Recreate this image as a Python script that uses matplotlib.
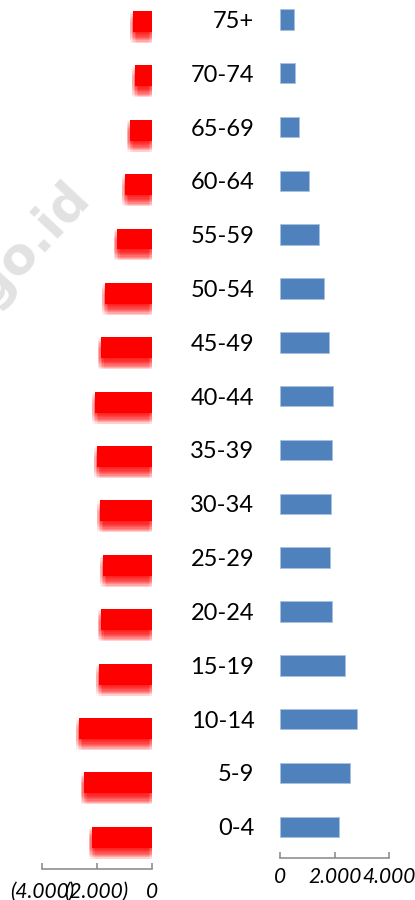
import numpy as np
import matplotlib.pyplot as plt
import matplotlib.patheffects as pe
from matplotlib.ticker import FuncFormatter

# ---------------------------------------------
# data: age groups (bottom to top)
# ---------------------------------------------
kelompok_umur = ['0-4', '5-9', '10-14', '15-19', '20-24', '25-29', '30-34', '35-39',
                 '40-44', '45-49', '50-54', '55-59', '60-64', '65-69', '70-74', '75+']

# left series (red, drawn to the left as negative values)
kiri = [2170, 2470, 2630, 1900, 1840, 1755, 1875, 1975,
        2045, 1850, 1680, 1270, 955, 785, 600, 663]

# right series (blue)
kanan = [2170, 2560, 2805, 2390, 1890, 1840, 1865, 1900,
         1950, 1780, 1620, 1427, 1060, 695, 560, 523]

ticks_kiri = [-4000, -2000, 0]
ticks_kanan = [0, 2000, 4000]

W, H = 415, 900
fig = plt.figure(figsize=(W / 100, H / 100), dpi=100)


def px_axes(x0, x1, y_top, y_bot):
    # axes rectangle given in pixel coordinates (origin top-left)
    return fig.add_axes([x0 / W, 1 - y_bot / H, (x1 - x0) / W, (y_bot - y_top) / H])


# watermark (cut by the left edge, as in the source)
fig.text(92 / W, 1 - 198 / H, 'bps.go.id', fontsize=37, fontweight='bold',
         color='#e2e2e2', rotation=47, rotation_mode='anchor',
         ha='right', va='baseline', family='DejaVu Sans', zorder=0)

y = np.arange(len(kelompok_umur))

# ---------------- left panel ----------------
ax_l = px_axes(41.7, 151.5, 0, 869)
ax_l.set_xlim(-4000, 0)
ax_l.set_ylim(-0.585, 15.395)

bars = ax_l.barh(y, -np.array(kiri), height=0.386, color='#ff0000', zorder=3)

# soft blurred shadow under each red bar
k = 0.72  # px -> pt
efek = []
for dy in np.linspace(-1.0, -11.0, 9):
    for dx in (-3.0, -1.5, 0.0, 1.5, 3.0):
        efek.append(pe.SimplePatchShadow(offset=(dx * k, dy * k),
                                         shadow_rgbFace='#ff0000', alpha=0.04))
efek.append(pe.Normal())
for b in bars:
    b.set_path_effects(efek)

# ---------------- right panel ----------------
ax_r = px_axes(280, 389.3, 0, 858)
ax_r.set_xlim(0, 4000)
ax_r.set_ylim(-0.58, 15.36)
ax_r.barh(y, kanan, height=0.38, color='#4f81bd', edgecolor='#a9c1df',
          linewidth=0.6, zorder=3)

ax_r.set_yticks(y)
ax_r.set_yticklabels(kelompok_umur, fontsize=17, family='Lato')
ax_r.tick_params(axis='y', length=0, pad=18.5)
ax_l.set_yticks([])


def fmt(v, pos):
    s = f'{abs(v):,.0f}'.replace(',', '.')
    return f'({s})' if v < 0 else s


for ax, tk in ((ax_l, ticks_kiri), (ax_r, ticks_kanan)):
    for s in ('top', 'left', 'right'):
        ax.spines[s].set_visible(False)
    ax.spines['bottom'].set_color('#868686')
    ax.spines['bottom'].set_linewidth(1.1)
    ax.set_xticks(tk)
    ax.xaxis.set_major_formatter(FuncFormatter(fmt))
    ax.tick_params(axis='x', direction='in', length=4.5, width=1.1, color='#868686',
                   labelsize=15, pad=6.5)
    for lab in ax.get_xticklabels():
        lab.set_fontstyle('italic')
        lab.set_family('Lato')
    ax.patch.set_alpha(0)

ax_l.tick_params(axis='x', pad=9)

fig.savefig('out.png', dpi=100)
